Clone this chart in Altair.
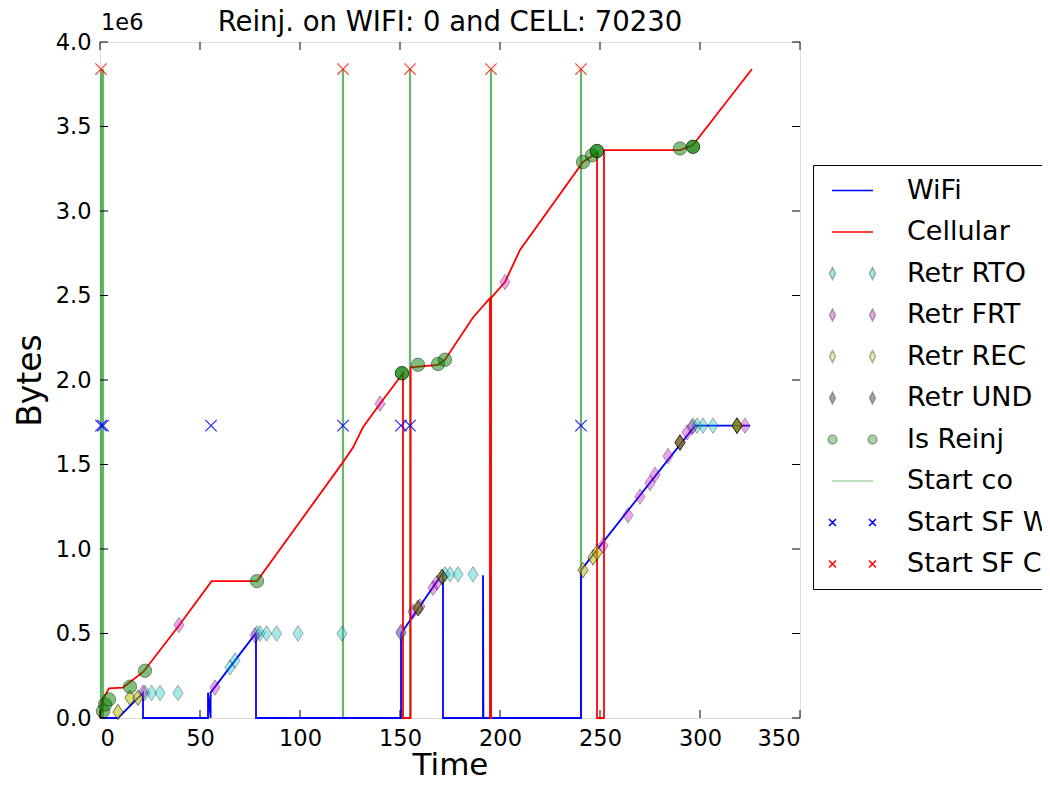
import altair as alt
import pandas as pd

# ---------------- data (time in s, bytes in millions) ----------------
wifi_time = [0, 9, 21.5, 21.5, 54, 54, 55.3, 55.3, 77.8, 78, 78, 150.5, 150.5, 171.5, 171.5,
             191.5, 191.5, 191.7, 240.5, 240.5, 297.5, 325]
wifi_mb = [0, 0, 0.148, 0, 0, 0.15, 0, 0.15, 0.50, 0.50, 0, 0, 0.50, 0.86, 0,
           0, 0.845, 0, 0, 0.875, 1.73, 1.73]

cell_time = [0, 1, 4.5, 11.5, 21.7, 39.7, 55.8, 78.5, 121.7, 126.5, 131.5, 140, 151.5, 151.5,
             155.3, 155.3, 169, 172.5, 186.5, 195, 195, 195.5, 195.5, 202.5, 210, 241.5, 246,
             248.5, 248.5, 252, 252, 290, 296.5, 326]
cell_mb = [0, 0.1, 0.175, 0.18, 0.274, 0.55, 0.81, 0.81, 1.517, 1.60, 1.72, 1.86, 2.04, 0,
           0, 2.075, 2.09, 2.12, 2.37, 2.485, 0, 0, 2.485, 2.58, 2.77, 3.29, 3.325,
           3.345, 0, 0, 3.36, 3.36, 3.39, 3.84]

rto_time = [22.5, 25.8, 30, 39, 65, 67.5, 78.5, 80, 83.3, 88.3, 99, 121, 150.5,
            172.5, 175, 179, 186.5, 296.5, 298.5, 301.5, 306.5]
rto_mb = [0.148, 0.148, 0.148, 0.148, 0.30, 0.34, 0.50, 0.50, 0.50, 0.50, 0.50, 0.50, 0.50,
          0.85, 0.85, 0.85, 0.85, 1.73, 1.73, 1.73, 1.73]

frt_time = [21.5, 39.5, 57.5, 77.5, 140, 150.5, 156.5, 160, 166.5, 168.5, 202.5, 251.5, 264,
            270, 275, 277.5, 284, 290, 293.5, 296, 322.5]
frt_mb = [0.15, 0.55, 0.18, 0.49, 1.86, 0.51, 0.63, 0.66, 0.77, 0.80, 2.58, 1.02, 1.20,
          1.31, 1.39, 1.44, 1.55, 1.63, 1.69, 1.72, 1.73]

rec_time = [9, 15, 19, 159, 171, 241.5, 246.5, 248.5, 290, 318.5, 318.5]
rec_mb = [0.035, 0.12, 0.12, 0.65, 0.835, 0.875, 0.95, 0.98, 1.63, 1.73, 1.73]

und_time = [159, 171, 290, 318.5]
und_mb = [0.65, 0.835, 1.63, 1.73]

reinj_time = [1.5, 2.5, 4.5, 15, 22.5, 78.5, 151, 151, 159, 169, 172.5, 241.5, 246,
              248.5, 248.5, 290, 296.5, 296.5]
reinj_mb = [0.04, 0.08, 0.11, 0.185, 0.28, 0.81, 2.04, 2.04, 2.09, 2.095, 2.12, 3.29, 3.33,
            3.355, 3.355, 3.37, 3.38, 3.38]

start_co_time = [0.5, 1.5, 121.5, 155, 195.5, 240.5]
start_co_top_mb = 3.84
sf_wifi_time = [0.5, 1.5, 55.5, 121.5, 150.5, 155, 240.5]
sf_wifi_mb = 1.73
sf_cell_time = [0.5, 121.5, 155, 195.5, 240.5]
sf_cell_mb = 3.84

x_ticks = [0, 50, 100, 150, 200, 250, 300, 350]
y_ticks_mb = [0, 0.5, 1.0, 1.5, 2.0, 2.5, 3.0, 3.5, 4.0]

legend_labels = ["WiFi", "Cellular", "Retr RTO", "Retr FRT", "Retr REC", "Retr UND",
                 "Is Reinj", "Start co", "Start SF W", "Start SF C"]

title_text = "Reinj. on WIFI: 0 and CELL: 70230"

# ---------------- styling ----------------
FONT = "DejaVu Sans"
W, H = 700, 676
DIAMOND = "M0,-1L0.66,0L0,1L-0.66,0Z"
XMARK = "M-1,-1L1,1M-1,1L1,-1"

L_LINE = "M-2.05,0L2.05,0"
L_DIAM = "M-2,-0.6L-1.7,0L-2,0.6L-2.3,0ZM2,-0.6L2.3,0L2,0.6L1.7,0Z"
L_CIRC = ("M-1.55,0A0.45,0.45 0 1,1 -2.45,0A0.45,0.45 0 1,1 -1.55,0Z"
          "M2.45,0A0.45,0.45 0 1,1 1.55,0A0.45,0.45 0 1,1 2.45,0Z")
L_X = ("M-2.35,-0.35L-1.65,0.35M-2.35,0.35L-1.65,-0.35"
       "M1.65,-0.35L2.35,0.35M1.65,0.35L2.35,-0.35")

legend_shapes = [L_LINE, L_LINE, L_DIAM, L_DIAM, L_DIAM, L_DIAM, L_CIRC, L_LINE, L_X, L_X]
legend_fills = ["transparent", "transparent", "rgba(0,191,191,0.35)", "rgba(191,0,191,0.35)",
                "rgba(191,191,0,0.35)", "rgba(0,0,0,0.35)", "rgba(0,128,0,0.35)",
                "transparent", "transparent", "transparent"]
legend_strokes = ["#0000ff", "#ff0000", "rgba(0,0,0,0.3)", "rgba(0,0,0,0.3)",
                  "rgba(0,0,0,0.3)", "rgba(0,0,0,0.3)", "rgba(0,0,0,0.3)",
                  "rgba(0,128,0,0.35)", "#0000ff", "#ff0000"]


def frame(t, mb):
    return pd.DataFrame({"t": t, "b": [v * 1e6 for v in mb], "i": list(range(len(t)))})


X = alt.X("t:Q", title="Time",
          scale=alt.Scale(domain=[0, 350], nice=False, zero=False),
          axis=alt.Axis(values=x_ticks, format="d", ticks=False, domain=False, grid=False,
                        labelFont=FONT, labelFontSize=22.5, labelColor="black", labelPadding=9,
                        titleFont=FONT, titleFontSize=31, titleFontWeight="normal",
                        titleColor="black", titlePadding=1))
Y = alt.Y("b:Q", title="Bytes",
          scale=alt.Scale(domain=[0, 4e6], nice=False, zero=True),
          axis=alt.Axis(values=[v * 1e6 for v in y_ticks_mb],
                        labelExpr="format(datum.value / 1e6, '.1f')",
                        ticks=False, domain=False, grid=False,
                        labelFont=FONT, labelFontSize=22.5, labelColor="black", labelPadding=9,
                        titleFont=FONT, titleFontSize=33, titleFontWeight="normal",
                        titleColor="black", titlePadding=8))

# start of connection vertical lines
sc = pd.DataFrame({"t": start_co_time, "b": [0.0] * len(start_co_time),
                   "b2": [start_co_top_mb * 1e6] * len(start_co_time)})
start_co = alt.Chart(sc).mark_rule(color="#008000", opacity=0.58, strokeWidth=2.2).encode(
    x=X, y=Y, y2="b2:Q")

wifi = alt.Chart(frame(wifi_time, wifi_mb)).mark_line(color="#0000ff", strokeWidth=1.8).encode(
    x=X, y=Y, order="i:Q")
cell = alt.Chart(frame(cell_time, cell_mb)).mark_line(color="#ff0000", strokeWidth=1.8).encode(
    x=X, y=Y, order="i:Q")


def markers(t, mb, shape, size, fill, stroke, sw=1.0):
    return alt.Chart(frame(t, mb)).mark_point(
        shape=shape, size=size, filled=True, fill=fill, stroke=stroke, strokeWidth=sw,
        opacity=1).encode(x=X, y=Y)


rto = markers(rto_time, rto_mb, DIAMOND, 240, "rgba(0,191,191,0.35)", "rgba(0,0,0,0.3)")
frt = markers(frt_time, frt_mb, DIAMOND, 240, "rgba(191,0,191,0.35)", "rgba(0,0,0,0.3)")
rec = markers(rec_time, rec_mb, DIAMOND, 240, "rgba(191,191,0,0.55)", "rgba(0,0,0,0.5)")
und = markers(und_time, und_mb, DIAMOND, 240, "rgba(0,0,0,0.3)", "rgba(0,0,0,0.3)")
reinj = markers(reinj_time, reinj_mb, "circle", 180, "rgba(0,128,0,0.5)", "rgba(0,0,0,0.4)")

sfw = alt.Chart(frame(sf_wifi_time, [sf_wifi_mb] * len(sf_wifi_time))).mark_point(
    shape=XMARK, size=130, filled=False, stroke="#0000ff", strokeWidth=1.2, opacity=0.85
).encode(x=X, y=Y)
sfc = alt.Chart(frame(sf_cell_time, [sf_cell_mb] * len(sf_cell_time))).mark_point(
    shape=XMARK, size=130, filled=False, stroke="#ff0000", strokeWidth=1.2, opacity=0.75
).encode(x=X, y=Y)

# inward ticks on all four sides (positions from the scales)
xt = pd.DataFrame({"t": x_ticks})
yt = pd.DataFrame({"b": [v * 1e6 for v in y_ticks_mb]})
tick_b = alt.Chart(xt).mark_rule(color="black", strokeWidth=1).encode(
    x=X, y=alt.value(H), y2=alt.value(H - 8))
tick_t = alt.Chart(xt).mark_rule(color="black", strokeWidth=1).encode(
    x=X, y=alt.value(0), y2=alt.value(8))
tick_l = alt.Chart(yt).mark_rule(color="black", strokeWidth=1).encode(
    y=Y, x=alt.value(0), x2=alt.value(8))
tick_r = alt.Chart(yt).mark_rule(color="black", strokeWidth=1).encode(
    y=Y, x=alt.value(W), x2=alt.value(W - 8))

offset_text = alt.Chart(pd.DataFrame({"s": ["1e6"]})).mark_text(
    align="left", baseline="alphabetic", font=FONT, fontSize=22.5, color="black"
).encode(text="s:N", x=alt.value(1), y=alt.value(-12))

title_mark = alt.Chart(pd.DataFrame({"s": [title_text]})).mark_text(
    align="center", baseline="alphabetic", font=FONT, fontSize=27.5, color="black"
).encode(text="s:N", x=alt.value(W / 2), y=alt.value(-11))

# legend (built from scales with explicit domains)
leg = alt.Legend(title=None, orient="none", legendX=713, legendY=123,
                 labelFont=FONT, labelFontSize=27, labelColor="black", labelLimit=500,
                 symbolSize=400, symbolStrokeWidth=1.5, symbolOffset=14, labelOffset=41,
                 rowPadding=13.5, padding=12, strokeColor="black", fillColor="white",
                 cornerRadius=0)
legend_layer = alt.Chart(pd.DataFrame({"label": legend_labels})).mark_point(
    opacity=1, filled=False
).encode(
    fill=alt.Fill("label:N", scale=alt.Scale(domain=legend_labels, range=legend_fills), legend=leg),
    stroke=alt.Stroke("label:N", scale=alt.Scale(domain=legend_labels, range=legend_strokes), legend=leg),
    shape=alt.Shape("label:N", scale=alt.Scale(domain=legend_labels, range=legend_shapes), legend=leg),
).transform_filter("false")

chart = alt.layer(
    start_co, wifi, cell, rto, frt, rec, und, reinj, sfw, sfc,
    tick_b, tick_t, tick_l, tick_r, offset_text, title_mark, legend_layer
).properties(
    width=W, height=H,
    autosize=alt.AutoSizeParams(type="none"),
    padding={"left": 92, "top": 34, "right": 242, "bottom": 63},
).configure_view(stroke="black", strokeWidth=1).configure(background="white")

chart.save("out.html", embed_options={"renderer": "svg", "actions": False})
